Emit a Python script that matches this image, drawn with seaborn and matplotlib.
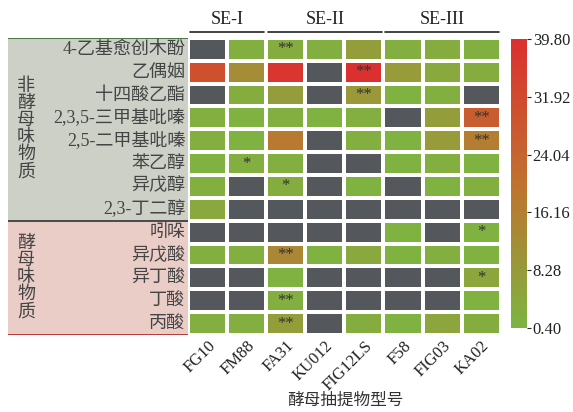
import numpy as np
import pandas as pd
import matplotlib
matplotlib.use("Agg")
import matplotlib.pyplot as plt
import seaborn as sns
from matplotlib.colors import LinearSegmentedColormap

yeasts = ["FG10", "FM88", "FA31", "KU012", "FIG12LS", "F58", "FIG03", "KA02"]
compounds = ["4-乙基愈创木酚", "乙偶姻", "十四酸乙酯", "2,3,5-三甲基吡嗪", "2,5-二甲基吡嗪",
             "苯乙醇", "异戊醇", "2,3-丁二醇", "吲哚", "异戊酸", "异丁酸", "丁酸", "丙酸"]
groups = ["非酵母味物质", "酵母味物质"]
group_sizes = [8, 5]
series_names = ["SE-I", "SE-II", "SE-III"]
series_sizes = [2, 3, 3]
nan = np.nan
values = [
    [nan, 2.0, 3.0, 2.0, 7.0, 2.0, 3.0, 1.5],
    [30.0, 12.0, 38.0, nan, 39.8, 8.0, 4.0, 3.0],
    [nan, 3.0, 7.5, nan, 9.0, 1.0, 2.0, nan],
    [2.0, 1.0, 2.0, 1.0, 2.0, nan, 7.0, 26.0],
    [2.0, 1.0, 18.0, nan, 2.0, 1.0, 8.0, 17.0],
    [1.0, 2.0, 2.0, nan, nan, 1.0, 2.0, 1.0],
    [2.0, nan, 3.0, nan, 1.0, nan, 1.0, 2.0],
    [4.0, nan, nan, nan, nan, nan, nan, nan],
    [nan, nan, nan, nan, nan, 1.0, nan, 1.0],
    [2.0, 2.0, 14.0, 1.0, 4.0, 1.0, 2.0, 1.0],
    [nan, nan, 1.0, nan, nan, nan, nan, 5.0],
    [nan, nan, 2.0, nan, nan, nan, nan, 1.0],
    [2.0, 2.0, 7.0, nan, 3.0, 1.0, 5.0, 3.0],
]
marks = [
    ["", "", "**", "", "", "", "", ""],
    ["", "", "", "", "**", "", "", ""],
    ["", "", "", "", "**", "", "", ""],
    ["", "", "", "", "", "", "", "**"],
    ["", "", "", "", "", "", "", "**"],
    ["", "*", "", "", "", "", "", ""],
    ["", "", "*", "", "", "", "", ""],
    ["", "", "", "", "", "", "", ""],
    ["", "", "", "", "", "", "", "*"],
    ["", "", "**", "", "", "", "", ""],
    ["", "", "", "", "", "", "", "*"],
    ["", "", "**", "", "", "", "", ""],
    ["", "", "**", "", "", "", "", ""],
]
cbar_ticks = [0.40, 8.28, 16.16, 24.04, 31.92, 39.80]

sns.set_style("white")
plt.rcParams['font.family'] = ['Liberation Serif', 'Noto Sans CJK SC']

df = pd.DataFrame(values, index=compounds, columns=yeasts)
cmap = LinearSegmentedColormap.from_list("gr", ["#7db441", "#c0722f", "#dc2f2f"])
cmap.set_bad("#54575c")

fig = plt.figure(figsize=(5.73, 4.12), dpi=100)
ax = fig.add_axes([0.328, 0.187, 0.546, 0.721])
cax = fig.add_axes([0.892, 0.204, 0.028, 0.701])

sns.heatmap(df, ax=ax, cbar_ax=cax, cmap=cmap, vmin=0.4, vmax=39.8,
            annot=np.array(marks), fmt="", linewidths=1.5, linecolor="white",
            annot_kws={"color": "#333333", "fontsize": 12},
            cbar_kws={"ticks": cbar_ticks})
ax.set_yticks([])
ax.set_ylabel("")
ax.set_xticklabels(yeasts, rotation=45, ha="right", rotation_mode="anchor",
                   fontsize=12, color="#222222")
ax.tick_params(axis="x", length=0, pad=2)
ax.set_xlabel("")
fig.text(0.602, 0.008, "酵母抽提物型号", ha="center", va="bottom",
         fontsize=12, color="#333333")

cax.set_yticklabels([f"{t:.2f}" for t in cbar_ticks], fontsize=12, color="#222222")
cax.tick_params(length=3, width=0.8, pad=1)

# series labels above columns
start = 0
for name, n in zip(series_names, series_sizes):
    ax.plot([start + 0.05, start + n - 0.05], [-0.25, -0.25], color="#222222",
            lw=1.2, clip_on=False)
    ax.text(start + n / 2, -0.45, name, ha="center", va="bottom", fontsize=13,
            color="#222222")
    start += n

# left label panel
lax = fig.add_axes([0.014, 0.187, 0.314, 0.721])
lax.set_xlim(0, 1)
lax.set_ylim(len(compounds), 0)
lax.axis("off")
colors_bg = ["#ccd0c6", "#ebcdc7"]
start = 0
for g, n, c in zip(groups, group_sizes, colors_bg):
    lax.axhspan(start, start + n, color=c, lw=0)
    lax.text(0.1, start + n / 2, "\n".join(g), ha="center", va="center",
             fontsize=13, color="#444444", linespacing=1.0)
    start += n
lax.axhline(0, color="#2e6b2e", lw=1.2)
lax.axhline(group_sizes[0], color="#333333", lw=1.2)
lax.axhline(len(compounds), color="#b02020", lw=1.2)
for i, name in enumerate(compounds):
    lax.text(0.985, i + 0.5, name, ha="right", va="center", fontsize=13,
             color="#444444")

fig.savefig("out.png", dpi=100)
